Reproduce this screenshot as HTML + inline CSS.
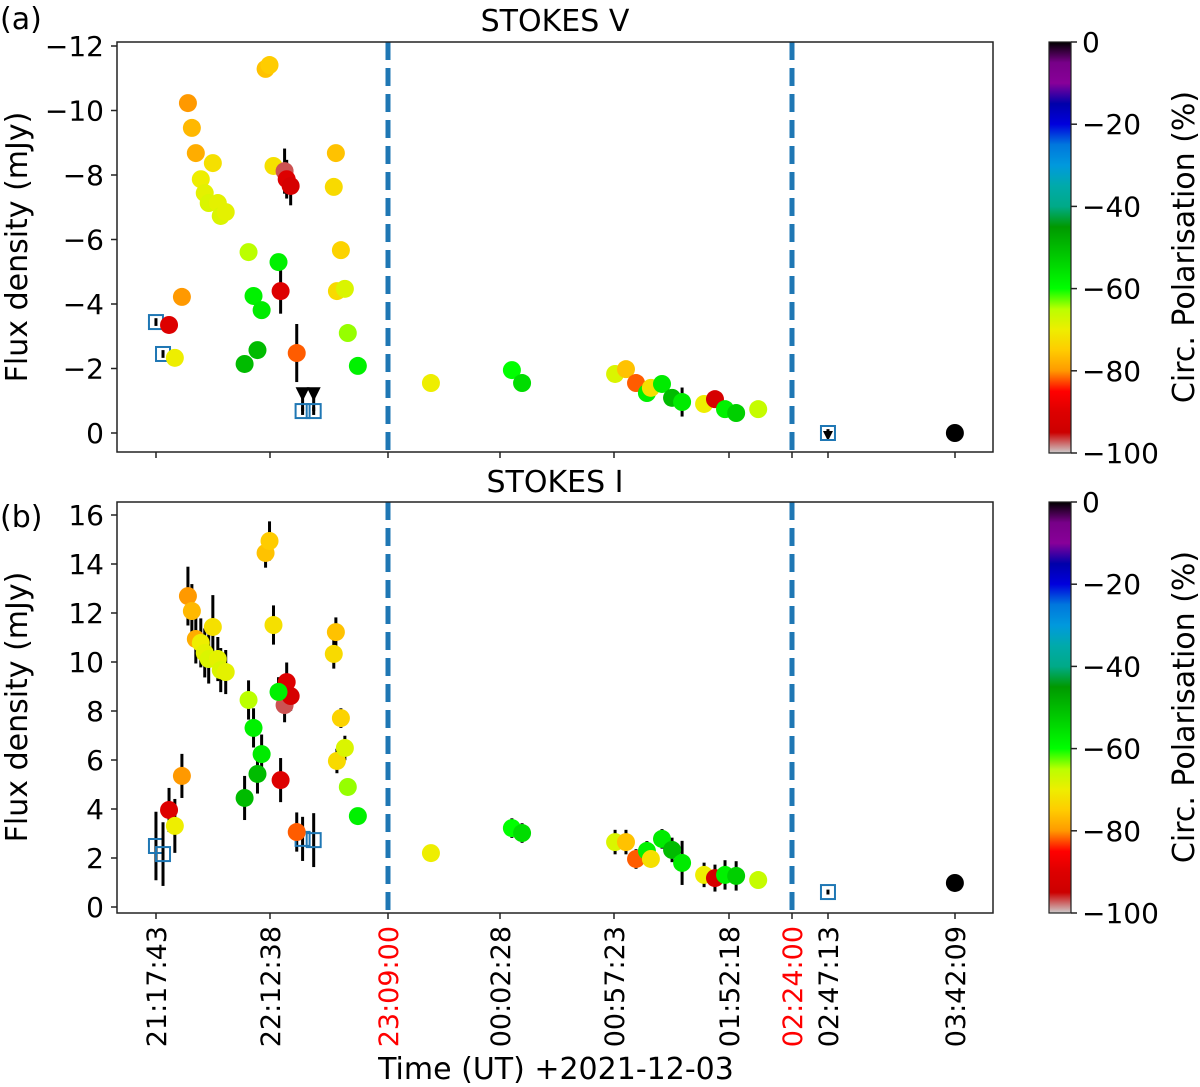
<!DOCTYPE html>
<html><head><meta charset="utf-8"><style>
html,body{margin:0;padding:0;background:#fff;}
svg{display:block;font-family:"DejaVu Sans","Liberation Sans",sans-serif;}
</style></head><body>
<svg id="chart" width="1200" height="1087" viewBox="0 0 1200 1087" xmlns="http://www.w3.org/2000/svg">
<defs>
<linearGradient id="cmap" x1="0" y1="0" x2="0" y2="1"></linearGradient>
</defs>
<g id="g-a"></g>
<g id="g-b"></g>
<g id="g-c"></g>
<g id="g-t"></g>
</svg>
<script>
// ---- data (time in minutes after 21:00 UT on 2021-12-03) ----
const detTime = [33.1,35.0,36.9,45.1,39.3,41.2,43.1,47.5,48.9,51.3,70.5,72.4,74.3,79.6,80.6,82.5,104.1,103.1,62.3,76.7,64.7,68.6,77.7,30.2,24.0,26.8,60.4,66.6,85.4,106.5,104.6,108.4,109.8,114.6,
  149.5,188.2,193.1,237.9,243.1,247.9,253.1,255.0,260.3,265.1,269.9,280.4,285.6,290.4,295.9,307.0,402.1];
const detV = [-10.23,-9.46,-8.68,-8.37,-7.87,-7.44,-7.13,-7.13,-6.73,-6.85,-11.29,-11.41,-8.28,-8.12,-7.87,-7.66,-8.68,-7.63,-5.61,-5.30,-4.25,-3.81,-4.40,-4.22,-3.35,-2.33,-2.14,-2.57,-2.48,-5.67,-4.40,-4.47,-3.10,-2.08,
  -1.55,-1.95,-1.55,-1.83,-1.98,-1.55,-1.24,-1.40,-1.52,-1.09,-0.96,-0.90,-1.05,-0.74,-0.62,-0.74,0];
const detVerr = [0,0,0,0,0,0,0,0,0,0,0,0,0,0.7,0.6,0.6,0,0,0,0,0,0,0.7,0,0,0,0,0,0.9,0,0,0,0,0,
  0,0,0,0,0,0,0,0,0,0,0.45,0,0,0,0,0,0];
const detI = [12.69,12.08,10.94,11.43,10.78,10.37,10.12,10.12,9.67,9.59,14.45,14.94,11.51,8.24,9.18,8.61,11.22,10.33,8.45,8.78,7.31,6.24,5.18,5.35,3.96,3.31,4.45,5.43,3.06,7.71,5.96,6.49,4.90,3.71,
  2.20,3.22,3.02,2.65,2.65,1.96,2.29,1.96,2.78,2.33,1.80,1.31,1.18,1.31,1.27,1.10,0.98];
const detIerr = [1.2,1.1,1.0,1.3,1.0,1.0,1.0,0.9,0.9,0.9,0.6,0.8,0.8,0.7,0.8,0.6,0.6,0.6,0.8,0.6,0.8,0.8,0.9,0.9,0.9,1.1,0.9,0.8,0.8,0.4,0.5,0.5,0.3,0.3,
  0,0.4,0.4,0.5,0.5,0.4,0.4,0.35,0.4,0.5,0.9,0.5,0.55,0.6,0.6,0.3,0];
const detPol = [-80,-77,-78,-72,-70,-69,-68,-69,-68,-69,-76,-75,-72,-97,-90,-92,-76,-73,-65,-58,-58,-57,-90,-80,-90,-70,-50,-50,-82,-74,-73,-68,-64,-58,
  -70,-60,-55,-68,-76,-82,-58,-72,-57,-50,-57,-70,-92,-58,-53,-66,0];
const limTime = [17.7,21.1,88.2,93.5,347.2];
const limV = [-3.44,-2.45,-0.68,-0.68,0];
const limVarrow = [false,false,true,true,true];
const limI = [2.49,2.16,2.78,2.73,0.61];
const limIerr = [1.4,1.3,0.9,1.1,0.1];
const tickTimes = [17.72,72.63,129,182.47,237.38,292.3,324,347.22,402.15];
const tickLabels = ["21:17:43","22:12:38","23:09:00","00:02:28","00:57:23","01:52:18","02:24:00","02:47:13","03:42:09"];
const tickRed = [false,false,true,false,false,false,true,false,false];
const eventTimes = [129,324];
const vTicks = [0,-2,-4,-6,-8,-10,-12];
const iTicks = [0,2,4,6,8,10,12,14,16];
const cbTicks = [0,-20,-40,-60,-80,-100];

// ---- scales ----
const knotPx = [156,270,388,500,614,729,792,828,955];
function xs(m){
  const k=tickTimes;
  let i=0;
  if(m<=k[0]) i=0; else if(m>=k[k.length-1]) i=k.length-2; else { while(m>k[i+1]) i++; }
  return knotPx[i]+(m-k[i])*(knotPx[i+1]-knotPx[i])/(k[i+1]-k[i]);
}
const yV = v => 433 + v*32.25;
const yI = v => 907 - v*24.5;
const cbY1 = pc => 42 + (-pc/100)*411;
const cbY2 = pc => 502 + (-pc/100)*411;

// nipy_spectral
const ns = [[0,0,0,0],[.05,.4667,0,.5333],[.10,.5333,0,.6],[.15,0,0,.6667],[.20,0,0,.8667],[.25,0,.4667,.8667],[.30,0,.6,.8667],[.35,0,.6667,.6667],[.40,0,.6667,.5333],[.45,0,.6,0],[.50,0,.7333,0],[.55,0,.8667,0],[.60,0,1,0],[.65,.7333,1,0],[.70,.9333,.9333,0],[.75,1,.8,0],[.80,1,.6,0],[.85,1,0,0],[.90,.8667,0,0],[.95,.8,0,0],[1,.8,.8,.8]];
function cmap(f){
  f=Math.max(0,Math.min(1,f));
  let i=0; while(i<ns.length-2 && f>ns[i+1][0]) i++;
  const a=ns[i],b=ns[i+1],t=(f-a[0])/(b[0]-a[0]);
  const c=[1,2,3].map(j=>Math.round(255*(a[j]+(b[j]-a[j])*t)));
  return `rgb(${c[0]},${c[1]},${c[2]})`;
}
const polColor = p => cmap(-p/100);

const NS="http://www.w3.org/2000/svg";
function mk(tag,attrs,parent,text){
  const e=document.createElementNS(NS,tag);
  for(const k in attrs) e.setAttribute(k,attrs[k]);
  if(text!==undefined) e.textContent=text;
  parent.appendChild(e); return e;
}
const gA=document.getElementById('g-a'), gB=document.getElementById('g-b'), gC=document.getElementById('g-c'), gT=document.getElementById('g-t');
const grad=document.getElementById('cmap');
for(let i=0;i<=40;i++){ mk('stop',{offset:(i/40),'stop-color':cmap(i/40)},grad); }

function panel(g,top,bot,yf,ticks,vals,errs,limVals,limErrs,isV){
  eventTimes.forEach(t=>{
    const l=mk('line',{x1:xs(t),x2:xs(t),y1:top,y2:bot,stroke:'#1f77b4','stroke-width':5,'stroke-dasharray':'18,8'},g);
    
    
  });
  detTime.forEach((t,i)=>{
    if(errs[i]>0){
      const e=mk('line',{x1:xs(t),x2:xs(t),y1:yf(vals[i]-errs[i]),y2:yf(vals[i]+errs[i]),stroke:'#000','stroke-width':3},g);
      
      
    }
  });
  limTime.forEach((t,i)=>{
    const x=xs(t), y=yf(limVals[i]);
    const er = isV?0.12:limErrs[i];
    const e=mk('line',{x1:x,x2:x,y1:yf(limVals[i]-er),y2:yf(limVals[i]+er),stroke:'#000','stroke-width':3},g);
    
    
    if(isV && limVarrow[i]){
      const ty = limVals[i]===0 ? y+3 : yV(-1.2);
      if(limVals[i]!==0){ mk('line',{x1:x,x2:x,y1:ty,y2:y,stroke:'#000','stroke-width':3},g); }
      const s = limVals[i]===0?5:7;
      const tri=mk('polygon',{points:`${x-s},${ty-s} ${x+s},${ty-s} ${x},${ty+s}`,fill:'#000'},g);
      
      
    }
    const r=mk('rect',{x:x-7,y:y-7,width:14,height:14,fill:'none',stroke:'#1f77b4','stroke-width':2},g);
    
    
  });
  detTime.forEach((t,i)=>{
    const c=mk('circle',{cx:xs(t),cy:yf(vals[i]),r:9,fill:polColor(detPol[i])},g);
    
    
  });
  const f=mk('rect',{x:117,y:top,width:876,height:bot-top,fill:'none',stroke:'#222','stroke-width':1.5},g);
  
  
  ticks.forEach(v=>{
    const y=yf(v);
    mk('line',{x1:111,x2:117,y1:y,y2:y,stroke:'#222','stroke-width':1.5},g);
    const tl=mk('text',{x:104,y:y+10,'text-anchor':'end','font-size':28,fill:'#000'},g,(v<0?'\u2212':'')+Math.abs(v));
    
    
  });
  tickTimes.forEach(t=>{
    const x=xs(t);
    mk('line',{x1:x,x2:x,y1:bot,y2:bot+6,stroke:'#222','stroke-width':1.5},g);
  });
}
panel(gA,42,452,yV,vTicks,detV,detVerr,limV,null,true);
panel(gB,502,913,yI,iTicks,detI,detIerr,limI,limIerr,false);

tickTimes.forEach((t,i)=>{
  const x=xs(t)+10;
  const tl=mk('text',{x:x,y:926,transform:`rotate(-90 ${x} 926)`,'text-anchor':'end','font-size':27,fill:tickRed[i]?'#ff0000':'#000'},gT,tickLabels[i]);
  
  
});

[[42,cbY1],[502,cbY2]].forEach(([top,fy])=>{
  const r=mk('rect',{x:1049,y:top,width:22,height:411,fill:'url(#cmap)',stroke:'#222','stroke-width':1.2},gC);
  
  
  cbTicks.forEach(p=>{
    const y=fy(p);
    mk('line',{x1:1071,x2:1077,y1:y,y2:y,stroke:'#222','stroke-width':1.5},gC);
    const tl=mk('text',{x:1082,y:y+10,'font-size':28,fill:'#000'},gC,(p<0?'\u2212':'')+Math.abs(p));
    
    
  });
  const cy=top+205;
  const lb=mk('text',{x:1194,y:cy,transform:`rotate(-90 1194 ${cy})`,'text-anchor':'middle','font-size':30,fill:'#000'},gC,'Circ. Polarisation (%)');
  
  
});

[[555,31,'STOKES V','panel-title'],[555,492,'STOKES I','panel-title'],[0,29,'(a)','panel-letter'],[0,527,'(b)','panel-letter'],[556,1079,'Time (UT) +2021-12-03','x-axis-title']].forEach(([x,y,s,n])=>{
  const t=mk('text',{x:x,y:y,'text-anchor':n==='panel-letter'?'start':'middle','font-size':30,fill:'#000'},gT,s);
  
  
});
[247,707].forEach(cy=>{
  const t=mk('text',{x:27,y:cy,transform:`rotate(-90 27 ${cy})`,'text-anchor':'middle','font-size':30,fill:'#000'},gT,'Flux density (mJy)');
  
  
});
</script>
</body></html>
